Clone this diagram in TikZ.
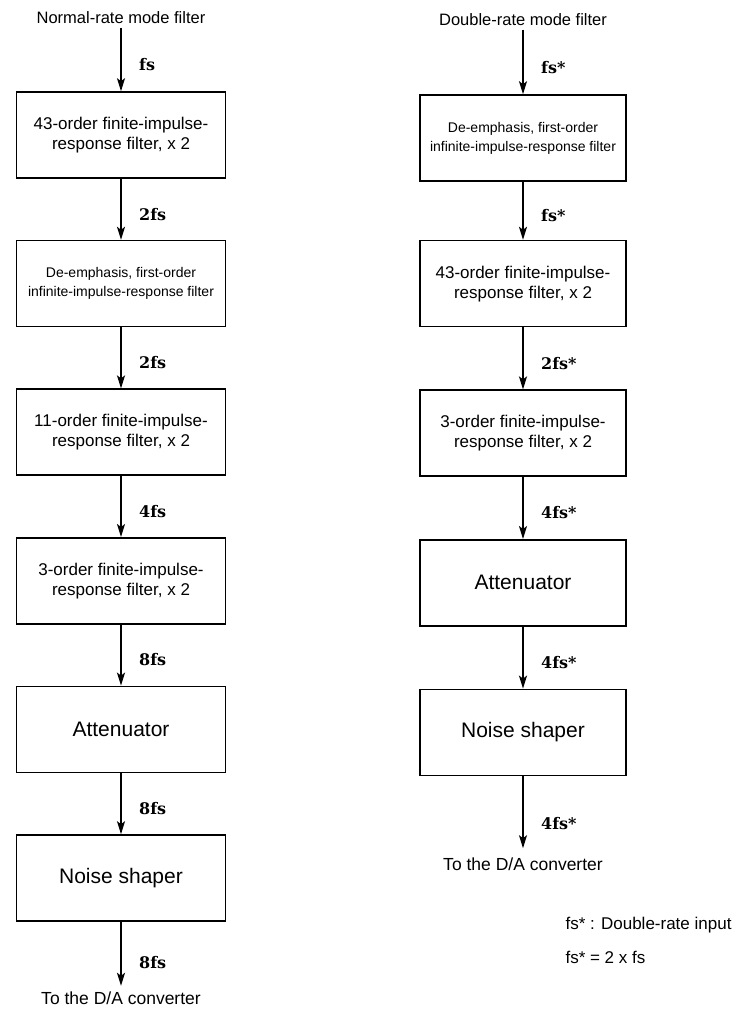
\documentclass[tikz,border=0pt]{standalone}
\usepackage{fontspec}
\setmainfont{Liberation Sans}
\newfontfamily\ratefont{DejaVu Serif}
\usetikzlibrary{positioning,arrows.meta}

\begin{document}
\begin{tikzpicture}[x=1pt,y=1pt,
		filterbox/.style={draw, line width=1.6pt, minimum height=86pt, align=center, inner sep=2pt},
		bigtext/.style={font=\fontsize{17}{20}\selectfont},
		smalltext/.style={font=\fontsize{14}{19}\selectfont},
		hugetext/.style={font=\fontsize{21}{24}\selectfont},
		flow/.style={-{Stealth[length=13pt,width=8pt,inset=3pt]}, line width=1.6pt},
		rate/.style={font=\ratefont\bfseries\fontsize{16}{20}\selectfont, pos=0.58, right=14pt}]
	\useasboundingbox (0,0) rectangle (739,-1010);
	% normal-rate column
	\node[font=\fontsize{16.5}{20}\selectfont] (ntitle) at (121,-18) {Normal-rate mode filter};
	\node[filterbox, bigtext, minimum width=209pt] (nfir43) at (121,-135) {43-order finite-impulse-\\response filter, x 2};
	\node[filterbox, smalltext, minimum width=209pt, below=61pt of nfir43] (ndeemph) {De-emphasis, first-order\\infinite-impulse-response filter};
	\node[filterbox, bigtext, minimum width=209pt, below=61pt of ndeemph] (nfir11) {11-order finite-impulse-\\response filter, x 2};
	\node[filterbox, bigtext, minimum width=209pt, below=61pt of nfir11] (nfir3) {3-order finite-impulse-\\response filter, x 2};
	\node[filterbox, hugetext, minimum width=209pt, below=61pt of nfir3] (natt) {Attenuator};
	\node[filterbox, hugetext, minimum width=209pt, below=61pt of natt] (nshaper) {Noise shaper};
	\node[font=\fontsize{17.5}{21}\selectfont, inner sep=0pt, below=70pt of nshaper] (ndac) {To the D/A converter};
	\draw[flow] (ntitle) -- (nfir43) node[rate] {fs};
	\draw[flow] (nfir43) -- (ndeemph) node[rate] {2fs};
	\draw[flow] (ndeemph) -- (nfir11) node[rate] {2fs};
	\draw[flow] (nfir11) -- (nfir3) node[rate] {4fs};
	\draw[flow] (nfir3) -- (natt) node[rate] {8fs};
	\draw[flow] (natt) -- (nshaper) node[rate] {8fs};
	\draw[flow, shorten >=6pt] (nshaper) -- (ndac) node[rate] {8fs};
	% double-rate column
	\node[font=\fontsize{16.5}{20}\selectfont] (dtitle) at (523,-20) {Double-rate mode filter};
	\node[filterbox, smalltext, minimum width=206pt] (ddeemph) at (523,-138) {De-emphasis, first-order\\infinite-impulse-response filter};
	\node[filterbox, bigtext, minimum width=206pt, below=58pt of ddeemph] (dfir43) {43-order finite-impulse-\\response filter, x 2};
	\node[filterbox, bigtext, minimum width=206pt, below=62pt of dfir43] (dfir3) {3-order finite-impulse-\\response filter, x 2};
	\node[filterbox, hugetext, minimum width=206pt, below=62pt of dfir3] (datt) {Attenuator};
	\node[filterbox, hugetext, minimum width=206pt, below=62pt of datt] (dshaper) {Noise shaper};
	\node[font=\fontsize{17.5}{21}\selectfont, inner sep=0pt, below=81pt of dshaper] (ddac) {To the D/A converter};
	\draw[flow] (dtitle) -- (ddeemph) node[rate] {fs*};
	\draw[flow] (ddeemph) -- (dfir43) node[rate] {fs*};
	\draw[flow] (dfir43) -- (dfir3) node[rate] {2fs*};
	\draw[flow] (dfir3) -- (datt) node[rate] {4fs*};
	\draw[flow] (datt) -- (dshaper) node[rate] {4fs*};
	\draw[flow, shorten >=9pt] (dshaper) -- (ddac) node[rate] {4fs*};
	% note
	\node[font=\fontsize{17}{20}\selectfont, anchor=west] (note1) at (562,-925) {fs* : Double-rate input};
	\node[font=\fontsize{17}{20}\selectfont, anchor=west] (note2) at (562,-957) {fs* = 2 x fs};
\end{tikzpicture}
\end{document}
